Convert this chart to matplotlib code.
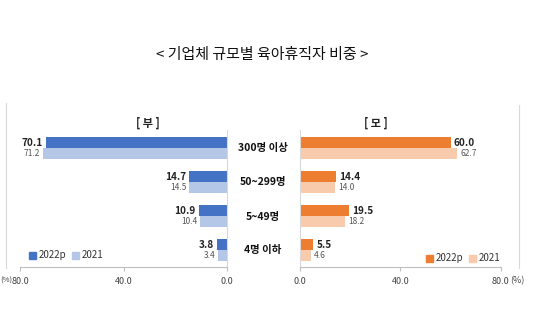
import matplotlib.pyplot as plt
from matplotlib.lines import Line2D
from matplotlib.patches import Rectangle

plt.rcParams['font.family'] = ['Noto Sans CJK KR', 'DejaVu Sans']

categories = ["300명 이상", "50~299명", "5~49명", "4명 이하"]
father_2022 = [70.1, 14.7, 10.9, 3.8]
father_2021 = [71.2, 14.5, 10.4, 3.4]
mother_2022 = [60.0, 14.4, 19.5, 5.5]
mother_2021 = [62.7, 14.0, 18.2, 4.6]
series_labels = ["2022p", "2021"]
ticks = [0, 40, 80]

BLUE_DARK = "#4472C4"
BLUE_LIGHT = "#B4C7E7"
ORANGE_DARK = "#ED7D31"
ORANGE_LIGHT = "#F8CBAD"
GRAY_LINE = "#D9D9D9"

W, H = 541, 331
fig = plt.figure(figsize=(W / 100, H / 100), dpi=100)
fig.patch.set_facecolor("white")

ypos = [3, 2, 1, 0]
bh = 0.32


def panel(rect, cur, prev, c_dark, c_light, left):
    ax = fig.add_axes(rect)
    ax.barh([y + bh / 2 for y in ypos], cur, height=bh, color=c_dark)
    ax.barh([y - bh / 2 for y in ypos], prev, height=bh, color=c_light)
    ax.set_ylim(-0.5, 3.53)
    if left:
        ax.set_xlim(80, 0)
    else:
        ax.set_xlim(0, 80)
    for y, a, b in zip(ypos, cur, prev):
        off = 1.2
        ha = "right" if left else "left"
        ax.text(a + off, y + bh / 2, f"{a:.1f}", ha=ha, va="center",
                fontsize=7.2, fontweight="bold", color="#222222")
        ax.text(b + off, y - bh / 2, f"{b:.1f}", ha=ha, va="center",
                fontsize=6, color="#555555")
    ax.set_yticks([])
    ax.set_xticks(ticks)
    ax.set_xticklabels([f"{t:.1f}" for t in ticks], fontsize=6.5, color="#444444")
    ax.tick_params(axis="x", length=3, color="#BFBFBF", pad=4)
    for s in ["top", "left", "right"]:
        ax.spines[s].set_visible(False)
    ax.spines["bottom"].set_color("#BFBFBF")
    side = "right" if left else "left"
    ax.spines[side].set_visible(True)
    ax.spines[side].set_color(GRAY_LINE)
    ax.set_facecolor("none")
    return ax


axl = panel([20 / W, 1 - 267 / H, 207 / W, 137 / H],
            father_2022, father_2021, BLUE_DARK, BLUE_LIGHT, True)
axr = panel([299.5 / W, 1 - 267 / H, 201.5 / W, 137 / H],
            mother_2022, mother_2021, ORANGE_DARK, ORANGE_LIGHT, False)

# 단위 표기
fig.text(0.5 / W, 1 - 281 / H, "(%)", fontsize=5.5, color="#444444", ha="left", va="center")
fig.text(510 / W, 1 - 281 / H, "(%)", fontsize=6.5, color="#444444", ha="left", va="center")

# 제목
fig.text(262 / W, 1 - 55 / H, "< 기업체 규모별 육아휴직자 비중 >", fontsize=10.8,
         ha="center", va="center", color="#111111")
fig.text(148 / W, 1 - 123 / H, "[ 부 ]", fontsize=8, fontweight="bold",
         ha="center", va="center", color="#222222")
fig.text(376 / W, 1 - 123 / H, "[ 모 ]", fontsize=8, fontweight="bold",
         ha="center", va="center", color="#222222")

# 가운데 범주 라벨
for y, cat in zip([148, 182, 217, 250], categories):
    fig.text(263 / W, 1 - y / H, cat, fontsize=7.5, fontweight="bold",
             ha="center", va="center", color="#111111")


def legend(x0, y0, c_dark, c_light):
    fig.add_artist(Rectangle((x0 / W, 1 - (y0 + 4) / H), 7 / W, 7 / H,
                             color=c_dark, transform=fig.transFigure))
    fig.text((x0 + 10) / W, 1 - y0 / H, series_labels[0], fontsize=7,
             va="center", color="#333333")
    fig.add_artist(Rectangle(((x0 + 43) / W, 1 - (y0 + 4) / H), 7 / W, 7 / H,
                             color=c_light, transform=fig.transFigure))
    fig.text((x0 + 53) / W, 1 - y0 / H, series_labels[1], fontsize=7,
             va="center", color="#333333")


legend(29, 255, BLUE_DARK, BLUE_LIGHT)
legend(426, 258, ORANGE_DARK, ORANGE_LIGHT)

# 바깥 테두리 선
fig.add_artist(Line2D([6 / W, 6 / W], [1 - 103 / H, 1 - 268 / H], color=GRAY_LINE, lw=0.8))
fig.add_artist(Line2D([519 / W, 519 / W], [1 - 105 / H, 1 - 268 / H], color=GRAY_LINE, lw=0.8))

fig.savefig("out.png", dpi=100)
